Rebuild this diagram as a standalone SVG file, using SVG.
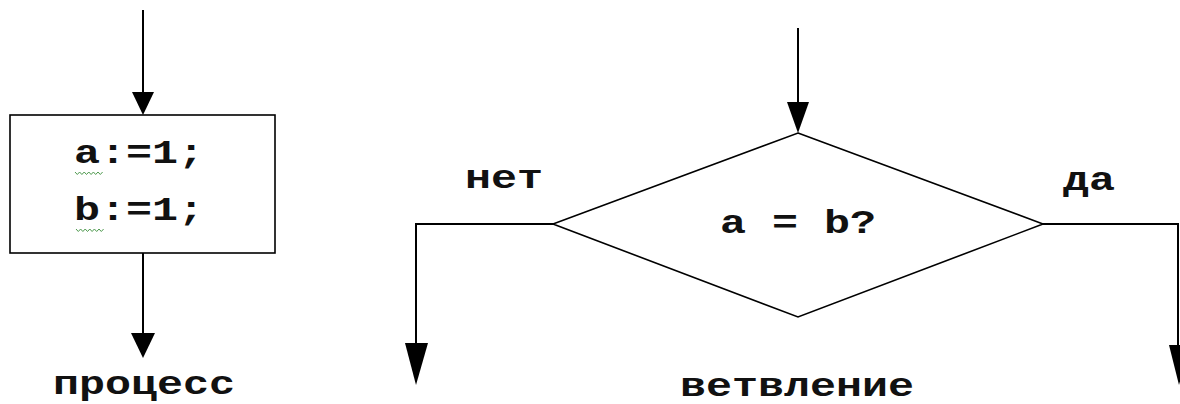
<svg xmlns="http://www.w3.org/2000/svg" width="1180" height="404" viewBox="0 0 1180 404">
<style>
.ln{fill:none;stroke:#000;stroke-width:2}
.shape{fill:#fff;stroke:#000;stroke-width:1.6}
.head{fill:#000;stroke:none}
.t{font-family:"Liberation Mono","Courier New",monospace;font-weight:bold;font-size:34px;fill:#111}
.wave{fill:none;stroke:#4f9a4f;stroke-width:1}
</style>
<rect width="1180" height="404" fill="#fff"/>
<g id="connectors">
<line class="ln" x1="143" y1="10" x2="143" y2="96"/>
<polygon class="head" points="132,92 154,92 143,115"/>
<line class="ln" x1="143" y1="253" x2="143" y2="336"/>
<polygon class="head" points="131,333 155,333 143,358"/>
<line class="ln" x1="798" y1="28" x2="798" y2="106"/>
<polygon class="head" points="787,102 809,102 798,133"/>
<polyline class="ln" points="553,224 416,224 416,346"/>
<polygon class="head" points="405,343 428,343 416,385"/>
<polyline class="ln" points="1043,224 1178,224 1178,348"/>
<polygon class="head" points="1169,345 1190,345 1179,385"/>
</g>
<g id="process">
<rect class="shape" x="10" y="115" width="265" height="138"/>
<text class="t" x="74" y="163" textLength="130" lengthAdjust="spacingAndGlyphs">a:=1;</text>
<text class="t" x="74" y="220" textLength="130" lengthAdjust="spacingAndGlyphs">b:=1;</text>
<path class="wave" d="M75,172 l2.3,2.5 l2.3,-2.5 l2.3,2.5 l2.3,-2.5 l2.3,2.5 l2.3,-2.5 l2.3,2.5 l2.3,-2.5 l2.3,2.5 l2.3,-2.5 l2.3,2.5 l2.3,-2.5"/>
<path class="wave" d="M76,229 l2.3,2.5 l2.3,-2.5 l2.3,2.5 l2.3,-2.5 l2.3,2.5 l2.3,-2.5 l2.3,2.5 l2.3,-2.5 l2.3,2.5 l2.3,-2.5 l2.3,2.5 l2.3,-2.5"/>
</g>
<g id="process-label">
<text class="t" x="53" y="394" textLength="182" lengthAdjust="spacingAndGlyphs">процесс</text>
</g>
<g id="decision">
<polygon class="shape" points="798,133 1043,224 798,317 553,224"/>
<text class="t" x="720" y="233" textLength="156" lengthAdjust="spacingAndGlyphs">a = b?</text>
</g>
<g id="label-no">
<text class="t" x="465" y="188" textLength="78" lengthAdjust="spacingAndGlyphs">нет</text>
</g>
<g id="label-yes">
<text class="t" x="1063" y="190" textLength="52" lengthAdjust="spacingAndGlyphs">да</text>
</g>
<g id="decision-label">
<text class="t" x="680" y="396" textLength="234" lengthAdjust="spacingAndGlyphs">ветвление</text>
</g>
</svg>
